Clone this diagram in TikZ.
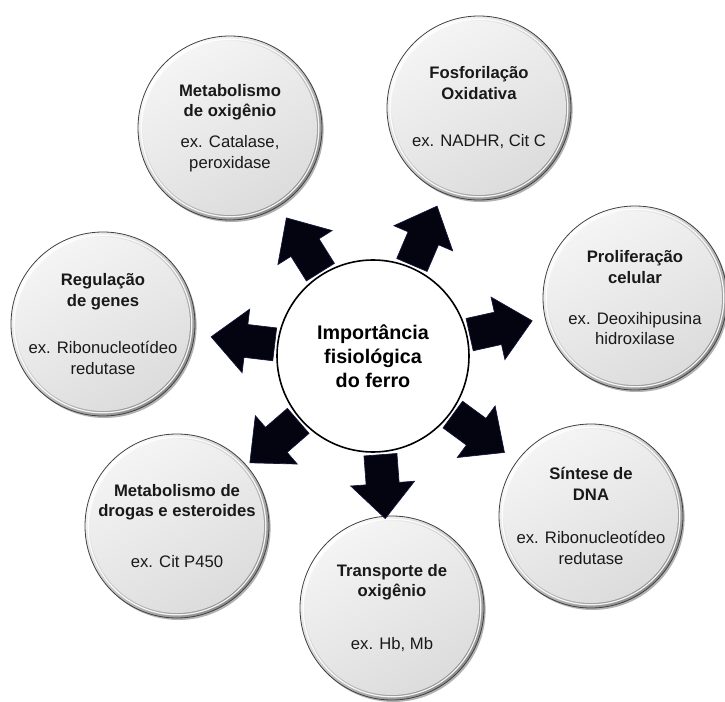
\documentclass[tikz,border=0pt]{standalone}
\usepackage{fontspec}
\setmainfont{Liberation Sans}
\usetikzlibrary{calc,shadows}
\begin{document}
\begin{tikzpicture}[x=0.75pt,y=-0.75pt,
  bub/.style={circle, inner sep=0pt, minimum size=138pt, draw=black!75, line width=0.6pt,
    top color=white, bottom color=black!45, shading angle=45,
    drop shadow={shadow xshift=1.2pt, shadow yshift=-1.5pt, opacity=0.3, fill=black},
    path picture={
      \shade[top color=black!4, bottom color=black!14, shading angle=30]
        (path picture bounding box.center) circle (65.25pt);
      \draw[white, line width=0.9pt, opacity=0.9]
        (path picture bounding box.center) circle (66.6pt);
    },
    align=center, text=black!90, font=\fontsize{12.5}{15.5}\selectfont},
  hub/.style={circle, inner sep=0pt, minimum size=144pt, draw=black, line width=1.2pt,
    fill=white, align=center, font=\fontsize{14.8}{18}\selectfont\bfseries},
  blockarrow/.style={fill={rgb,255:red,4;green,4;blue,16}, draw={rgb,255:red,20;green,22;blue,60},
    line width=0.5pt, line join=miter}
]
\useasboundingbox (0,0) rectangle (725,702);

\node[hub] (c) at (373,356) {Importância\\fisiológica\\do ferro};

\node[bub] (n1) at (230,128) {{\bfseries Metabolismo}\\{\bfseries de oxigênio}\\[7.5pt]ex. Catalase,\\peroxidase};
\node[bub] (n2) at (479,108) {{\bfseries Fosforilação}\\{\bfseries Oxidativa}\\[20pt]ex. NADHR, Cit C};
\node[bub] (n3) at (635,298) {{\bfseries Proliferação}\\{\bfseries celular}\\[15pt]ex. Deoxihipusina\\hidroxilase};
\node[bub] (n4) at (591,516) {{\bfseries Síntese de}\\{\bfseries DNA}\\[17pt]ex. Ribonucleotídeo\\redutase};
\node[bub] (n5) at (392,608) {{\bfseries Transporte de}\\{\bfseries oxigênio}\\[24pt]ex. Hb, Mb};
\node[bub] (n6) at (177,526) {{\bfseries Metabolismo de}\\{\bfseries drogas e esteroides}\\[22.5pt]ex. Cit P450};
\node[bub] (n7) at (103,324) {{\bfseries Regulação}\\{\bfseries de genes}\\[20pt]ex. Ribonucleotídeo\\redutase};

\foreach \t in {n1,n2,n3,n4,n5,n6,n7}{
  \filldraw[blockarrow]
    ($(c)!74.25pt!(\t)!12.4pt!90:(\t)$) --
    ($(c)!96pt!(\t)!12.4pt!90:(\t)$) --
    ($(c)!96pt!(\t)!24pt!90:(\t)$) --
    ($(c)!122.25pt!(\t)$) --
    ($(c)!96pt!(\t)!24pt!-90:(\t)$) --
    ($(c)!96pt!(\t)!12.4pt!-90:(\t)$) --
    ($(c)!74.25pt!(\t)!12.4pt!-90:(\t)$) -- cycle;
}
\end{tikzpicture}
\end{document}
